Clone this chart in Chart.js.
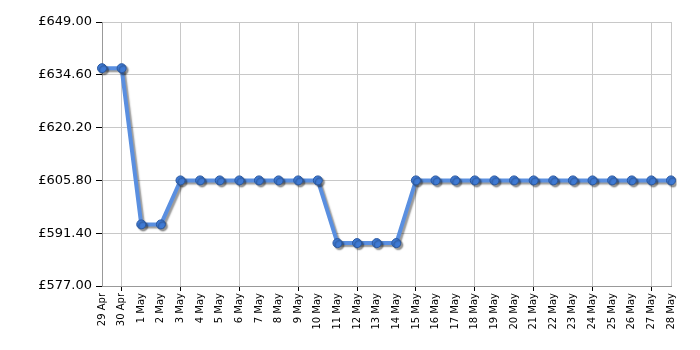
<!DOCTYPE html>
<html><head><meta charset="utf-8">
<script src="https://cdn.jsdelivr.net/npm/chart.js@4"></script>
<style>html,body{margin:0;padding:0;background:#fff}#wrap{width:700px;height:350px}</style>
</head><body><div id="wrap"><canvas id="c" width="700" height="350"></canvas></div>
<script>
const labels = ["29 Apr","30 Apr","1 May","2 May","3 May","4 May","5 May","6 May","7 May","8 May","9 May","10 May","11 May","12 May","13 May","14 May","15 May","16 May","17 May","18 May","19 May","20 May","21 May","22 May","23 May","24 May","25 May","26 May","27 May","28 May"];
const prices = [636.4,636.4,593.8,593.8,605.8,605.8,605.8,605.8,605.8,605.8,605.8,605.8,588.7,588.7,588.7,588.7,605.8,605.8,605.8,605.8,605.8,605.8,605.8,605.8,605.8,605.8,605.8,605.8,605.8,605.8];
const yTicks = [577.00,591.40,605.80,620.20,634.60,649.00];

const shadowPlugin = {
  id:'shadow',
  beforeDatasetsDraw(chart){const c=chart.ctx;c.save();c.shadowColor='rgba(0,0,0,0.4)';c.shadowOffsetX=2;c.shadowOffsetY=2;c.shadowBlur=1.5;},
  afterDatasetsDraw(chart){chart.ctx.restore();}
};
const font = {family:'Verdana, "DejaVu Sans", sans-serif'};
new Chart(document.getElementById('c'),{
  type:'line',
  data:{labels,datasets:[{data:prices,borderColor:'#5a8fe0',borderWidth:4,pointRadius:4.5,pointHoverRadius:4.5,pointBackgroundColor:'#3f7ad4',pointBorderColor:'#2a58a0',pointBorderWidth:1,tension:0,fill:false}]},
  options:{
    responsive:false,animation:false,devicePixelRatio:1,
    layout:{padding:{top:22,right:29,left:0,bottom:0}},
    plugins:{legend:{display:false},tooltip:{enabled:false}},
    scales:{
      x:{offset:false,
        afterFit(s){s.height=64;},
        grid:{color:(c)=>{const i=c.index;return (i===29||(i-1)%3===0)?'#c8c8c8':'rgba(0,0,0,0)';},
              tickColor:(c)=>{const i=c.index;return ((i-1)%3===0)?'#000':'rgba(0,0,0,0)';},tickLength:5,lineWidth:1},
        border:{color:'#999',width:1},
        ticks:{autoSkip:false,maxRotation:90,minRotation:90,color:'#000',font:{...font,size:10},padding:2}
      },
      y:{min:577,max:649,
        afterFit(s){s.width=102;},
        afterBuildTicks(s){s.ticks=yTicks.map(v=>({value:v}));},
        grid:{color:'#c8c8c8',tickColor:'#000',tickLength:6,lineWidth:1},
        border:{color:'#999',width:1},
        ticks:{color:'#000',font:{...font,size:13},padding:4,callback:(v)=>'£'+Number(v).toFixed(2)}
      }
    }
  },
  plugins:[shadowPlugin]
});
</script></body></html>
